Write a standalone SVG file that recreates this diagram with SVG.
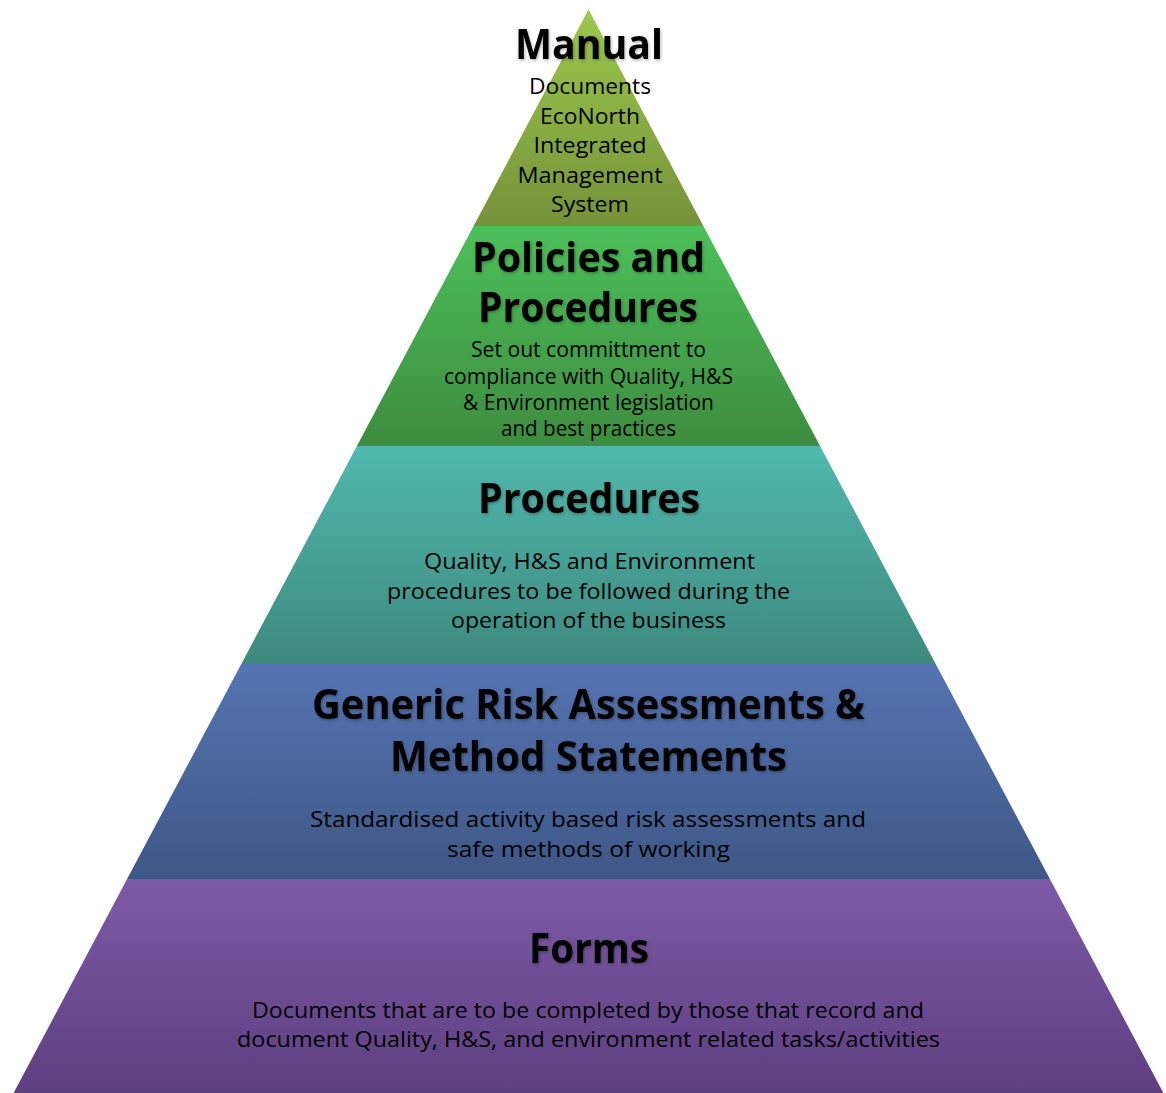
<svg xmlns="http://www.w3.org/2000/svg" width="1166" height="1093" viewBox="0 0 1166 1093">
  <defs>
    <linearGradient id="gTop" x1="0" y1="0" x2="0" y2="1">
      <stop offset="0" stop-color="#9cc84a"/>
      <stop offset="1" stop-color="#76923a"/>
    </linearGradient>
    <linearGradient id="gGreen" x1="0" y1="0" x2="0" y2="1">
      <stop offset="0" stop-color="#4cc05a"/>
      <stop offset="1" stop-color="#3e8c3e"/>
    </linearGradient>
    <linearGradient id="gTeal" x1="0" y1="0" x2="0" y2="1">
      <stop offset="0" stop-color="#50b9ae"/>
      <stop offset="1" stop-color="#3e897e"/>
    </linearGradient>
    <linearGradient id="gBlue" x1="0" y1="0" x2="0" y2="1">
      <stop offset="0" stop-color="#5574b2"/>
      <stop offset="1" stop-color="#3e5786"/>
    </linearGradient>
    <linearGradient id="gPurple" x1="0" y1="0" x2="0" y2="1">
      <stop offset="0" stop-color="#7d5aa7"/>
      <stop offset="1" stop-color="#5e3f80"/>
    </linearGradient>
    <filter id="shadow" x="-10%" y="-20%" width="120%" height="140%">
      <feDropShadow dx="1" dy="1.5" stdDeviation="1.5" flood-color="#000" flood-opacity="0.3"/>
    </filter>
  </defs>
  <style>
    text { font-family: "Open Sans", "Noto Sans", "Liberation Sans", sans-serif; fill: #000; text-anchor: middle; }
    .h { font-weight: bold; font-size: 42px; filter: url(#shadow); }
    .b { font-size: 21px; }
  </style>
  <rect width="1166" height="1093" fill="#ffffff"/>

  <g id="tier-manual">
    <polygon points="588.5,9.5 703.4,226 473.6,226" fill="url(#gTop)"/>
    <text class="h" x="589" y="59" textLength="148" lengthAdjust="spacingAndGlyphs">Manual</text>
    <text class="b" x="590" y="94" textLength="122" lengthAdjust="spacingAndGlyphs">Documents</text>
    <text class="b" x="590" y="123.5" textLength="100" lengthAdjust="spacingAndGlyphs">EcoNorth</text>
    <text class="b" x="590" y="153" textLength="113" lengthAdjust="spacingAndGlyphs">Integrated</text>
    <text class="b" x="590" y="182.5" textLength="145" lengthAdjust="spacingAndGlyphs">Management</text>
    <text class="b" x="590" y="212" textLength="78" lengthAdjust="spacingAndGlyphs">System</text>
  </g>

  <g id="tier-policies">
    <polygon points="473.6,226 703.4,226 820.1,446 356.9,446" fill="url(#gGreen)"/>
    <text class="h" x="588.5" y="272" textLength="233" lengthAdjust="spacingAndGlyphs">Policies and</text>
    <text class="h" x="588" y="322" textLength="220" lengthAdjust="spacingAndGlyphs">Procedures</text>
    <text class="b" x="588.5" y="357" textLength="235" lengthAdjust="spacingAndGlyphs">Set out committment to</text>
    <text class="b" x="588.5" y="384" textLength="289" lengthAdjust="spacingAndGlyphs">compliance with Quality, H&amp;S</text>
    <text class="b" x="588.5" y="410" textLength="251" lengthAdjust="spacingAndGlyphs">&amp; Environment legislation</text>
    <text class="b" x="588.5" y="436" textLength="175" lengthAdjust="spacingAndGlyphs">and best practices</text>
  </g>

  <g id="tier-procedures">
    <polygon points="356.9,446 820.1,446 935.2,663 241.8,663" fill="url(#gTeal)"/>
    <text class="h" x="589" y="513" textLength="222" lengthAdjust="spacingAndGlyphs">Procedures</text>
    <text class="b" x="589.5" y="569" textLength="331" lengthAdjust="spacingAndGlyphs">Quality, H&amp;S and Environment</text>
    <text class="b" x="588.5" y="599" textLength="403" lengthAdjust="spacingAndGlyphs">procedures to be followed during the</text>
    <text class="b" x="588.5" y="628" textLength="275" lengthAdjust="spacingAndGlyphs">operation of the business</text>
  </g>

  <g id="tier-risk">
    <polygon points="241.8,663 935.2,663 1049.9,879 127.1,879" fill="url(#gBlue)"/>
    <text class="h" x="588.5" y="719" textLength="553" lengthAdjust="spacingAndGlyphs">Generic Risk Assessments &amp;</text>
    <text class="h" x="588.5" y="771" textLength="397" lengthAdjust="spacingAndGlyphs">Method Statements</text>
    <text class="b" x="588" y="827" textLength="556" lengthAdjust="spacingAndGlyphs">Standardised activity based risk assessments and</text>
    <text class="b" x="588.5" y="857" textLength="283" lengthAdjust="spacingAndGlyphs">safe methods of working</text>
  </g>

  <g id="tier-forms">
    <polygon points="127.1,879 1049.9,879 1163.4,1093 13.6,1093" fill="url(#gPurple)"/>
    <text class="h" x="589" y="963" textLength="120" lengthAdjust="spacingAndGlyphs">Forms</text>
    <text class="b" x="588" y="1018" textLength="672" lengthAdjust="spacingAndGlyphs">Documents that are to be completed by those that record and</text>
    <text class="b" x="588.5" y="1047" textLength="703" lengthAdjust="spacingAndGlyphs">document Quality, H&amp;S, and environment related tasks/activities</text>
  </g>

  <g id="connectors"></g>
</svg>
